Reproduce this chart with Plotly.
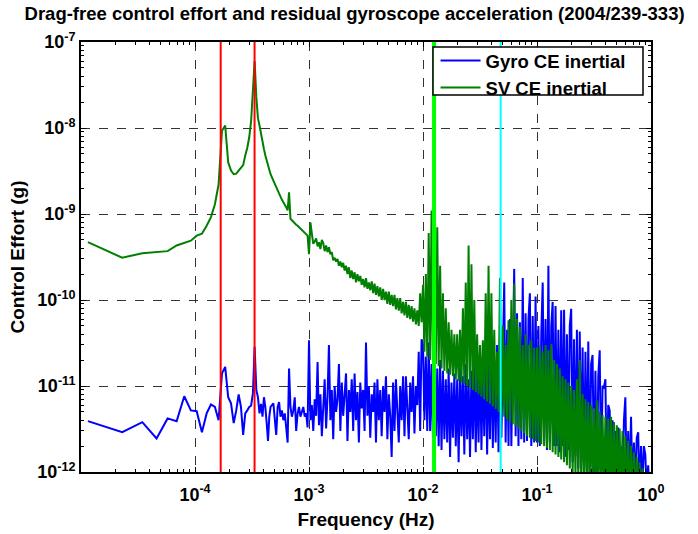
import plotly.graph_objects as go

# ---------------- data ----------------
# individual FFT bins at the low-frequency end (Hz)
FREQ_BINS = [1.15e-5, 2.30e-5, 3.45e-5, 4.60e-5, 5.75e-5, 6.90e-5, 8.05e-5, 9.20e-5,
             1.035e-4, 1.150e-4, 1.265e-4, 1.380e-4, 1.495e-4, 1.610e-4, 1.725e-4,
             1.840e-4, 1.955e-4, 2.070e-4, 2.185e-4, 2.300e-4, 2.415e-4, 2.530e-4,
             2.645e-4, 2.760e-4, 2.875e-4, 2.990e-4, 3.105e-4, 3.220e-4, 3.335e-4,
             3.450e-4, 3.565e-4, 3.680e-4, 3.795e-4, 3.910e-4, 4.025e-4, 4.140e-4,
             4.255e-4, 4.370e-4, 4.485e-4, 4.600e-4]
# frequency mantissas used for the sampled points within each decade
FREQ_MANT = [1.000, 1.029, 1.059, 1.090, 1.122, 1.155, 1.189, 1.223, 1.259, 1.296,
             1.334, 1.372, 1.413, 1.454, 1.496, 1.540, 1.585, 1.631, 1.679, 1.728,
             1.778, 1.830, 1.884, 1.939, 1.995, 2.054, 2.113, 2.175, 2.239, 2.304,
             2.371, 2.441, 2.512, 2.585, 2.661, 2.738, 2.818, 2.901, 2.985, 3.072,
             3.162, 3.255, 3.350, 3.447, 3.548, 3.652, 3.758, 3.868, 3.981, 4.097,
             4.217, 4.340, 4.467, 4.597, 4.732, 4.870, 5.012, 5.158, 5.309, 5.464,
             5.623, 5.788, 5.957, 6.131, 6.310, 6.494, 6.683, 6.879, 7.079, 7.286,
             7.499, 7.718, 7.943, 8.175, 8.414, 8.660, 8.913, 9.173, 9.441, 9.716]

# Gyro CE inertial (g)
GYRO_LOW = [3.9e-12, 2.9e-12, 3.8e-12, 2.45e-12, 4.2e-12, 3.9e-12, 7.6e-12, 5.2e-12,
            5.1e-12, 2.9e-12, 4.8e-12, 6.1e-12, 5.7e-12, 4.0e-12, 1.4e-11, 1.67e-11,
            7.4e-12, 6.3e-12, 3.7e-12, 5.2e-12, 8.0e-12, 5.7e-12, 2.7e-12, 4.8e-12,
            5.2e-12, 5.7e-12, 5.9e-12, 8.2e-12, 2.85e-11, 9.0e-12, 7.4e-12, 4.8e-12,
            6.2e-12, 4.4e-12, 7.4e-12, 5.7e-12, 3.7e-12, 2.3e-12, 4.4e-12, 5.7e-12]
GYRO_E4 = [6.3e-12, 3.7e-12, 2.7e-12, 5.7e-12, 6.5e-12, 4.4e-12, 5.2e-12, 4.0e-12,
           4.8e-12, 3.3e-12, 2.2e-12, 1.6e-11, 5.7e-12, 4.4e-12, 5.2e-12, 7.4e-12,
           3.0e-12, 4.8e-12, 5.7e-12, 4.4e-12, 5.0e-12, 5.7e-12, 4.4e-12, 4.8e-12, 3.3e-12]
GYRO_E3 = [3.4e-11, 4.0e-12, 6.0e-12, 3.0e-12, 7.0e-12, 4.5e-12, 1.9e-11, 3.5e-12,
           8.0e-12, 2.6e-12, 6.5e-12, 1.2e-11, 3.2e-12, 7.5e-12, 3.0e-11, 4.0e-12,
           9.0e-12, 2.4e-12, 1.0e-11, 5.0e-12, 7.0e-12, 1.8e-11, 3.0e-12, 1.1e-11,
           4.5e-12, 8.0e-12, 1.4e-11, 2.3e-12, 9.0e-12, 5.0e-12, 1.2e-11, 3.0e-12,
           1.4e-11, 4.0e-12, 8.5e-12, 2.2e-12, 1.1e-11, 5.5e-12, 9.0e-12, 3.0e-12,
           3.2e-11, 4.5e-12, 1.0e-11, 2.5e-12, 8.0e-12, 5.0e-12, 1.1e-11, 2.2e-12,
           1.2e-11, 4.0e-12, 9.0e-12, 2.6e-12, 1.0e-11, 5.0e-12, 1.3e-11, 2.4e-12,
           8.0e-12, 4.5e-12, 1.5e-12, 1.1e-11, 3.0e-12, 1.2e-11, 5.0e-12, 2.2e-12,
           1.0e-11, 4.0e-12, 1.3e-11, 2.6e-12, 1.3e-11, 6.0e-12, 2.4e-12, 1.1e-11,
           5.0e-12, 1.3e-11, 2.8e-12, 1.0e-11, 6.0e-12, 2.5e-11, 3.0e-12, 3.5e-11]
GYRO_E2 = [3.0e-11, 4.0e-12, 2.2e-11, 3.0e-12, 3.2e-11, 3.0e-12, 1.8e-11, 2.5e-12,
           2.5e-11, 2.6e-12, 1.6e-11, 2.0e-12, 2.0e-11, 1.8e-12, 1.5e-11, 2.4e-12,
           1.2e-11, 2.2e-12, 1.6e-11, 1.5e-12, 1.1e-11, 2.5e-12, 1.4e-11, 2.0e-12,
           1.2e-11, 1.3e-12, 1.6e-11, 2.6e-12, 1.3e-11, 1.6e-12, 1.8e-11, 2.4e-12,
           1.2e-11, 1.5e-12, 1.5e-11, 2.4e-12, 2.0e-11, 1.7e-12, 1.4e-11, 2.2e-12,
           2.2e-11, 1.8e-12, 1.6e-11, 2.6e-12, 2.4e-11, 1.6e-12, 1.8e-11, 2.4e-12,
           2.6e-11, 1.9e-12, 2.0e-11, 2.2e-12, 3.0e-11, 1.7e-12, 4.0e-11, 2.5e-12,
           3.5e-11, 1.6e-10, 2.2e-12, 4.5e-11, 2.0e-12, 6.0e-11, 2.0e-12, 5.0e-11,
           2.3e-10, 2.6e-12, 7.0e-11, 2.0e-12, 5.5e-11, 2.4e-12, 1.8e-10, 2.2e-12,
           7.0e-11, 2.3e-12, 6.0e-11, 1.2e-10, 2.0e-12, 6.5e-11, 2.2e-12, 1.1e-10]
GYRO_E1 = [2.2e-12, 5.0e-11, 2.0e-12, 4.0e-11, 1.6e-10, 2.4e-12, 6.0e-11, 1.8e-12,
           2.5e-10, 2.2e-12, 5.0e-11, 9.5e-11, 2.0e-12, 8.5e-11, 2.0e-12, 4.5e-11,
           1.7e-12, 7.6e-11, 2.0e-12, 7.7e-11, 1.5e-12, 4.0e-11, 1.8e-12, 5.0e-11,
           7.9e-11, 1.3e-12, 3.5e-11, 1.5e-12, 4.5e-11, 1.1e-12, 4.3e-11, 1.3e-12,
           2.8e-11, 9.0e-13, 2.5e-11, 1.1e-12, 3.3e-11, 8.0e-13, 1.8e-11, 2.3e-11,
           9.0e-13, 1.5e-11, 7.0e-13, 1.3e-11, 2.6e-11, 8.0e-13, 1.0e-11, 9.7e-12,
           1.2e-11, 7.0e-13, 6.0e-12, 5.2e-12, 8.0e-13, 4.0e-12, 6.0e-13, 3.0e-12,
           7.0e-13, 3.3e-12, 6.0e-13, 2.0e-12, 8.0e-13, 4.0e-12, 7.4e-12, 6.0e-13,
           3.0e-12, 7.0e-13, 4.4e-12, 6.0e-13, 2.2e-12, 7.0e-13, 2.5e-12, 2.9e-12,
           6.0e-13, 2.0e-12, 7.0e-13, 2.0e-12, 1.6e-12, 6.0e-13, 1.2e-12, 6.0e-13]

# SV CE inertial (g)
SV_LOW = [4.7e-10, 3.1e-10, 3.5e-10, 3.6e-10, 3.7e-10, 4.3e-10, 4.6e-10, 4.9e-10,
          5.6e-10, 5.9e-10, 7.3e-10, 9.2e-10, 1.3e-9, 2.2e-9, 9.3e-9, 1.07e-8,
          4.0e-9, 3.2e-9, 2.9e-9, 2.95e-9, 3.2e-9, 3.4e-9, 3.7e-9, 4.8e-9,
          5.9e-9, 7.8e-9, 1.2e-8, 2.7e-8, 6.0e-8, 2.3e-8, 1.3e-8, 1.07e-8,
          8.5e-9, 6.5e-9, 5.7e-9, 4.8e-9, 4.2e-9, 3.6e-9, 3.2e-9, 2.9e-9]
SV_E4 = [2.44e-9, 2.23e-9, 2.04e-9, 1.87e-9, 1.71e-9, 1.56e-9, 1.46e-9, 1.37e-9,
         1.29e-9, 1.2e-9, 1.1e-9, 1.79e-9, 8.8e-10, 8.4e-10, 8.1e-10, 7.8e-10,
         7.5e-10, 7.3e-10, 7.0e-10, 6.8e-10, 6.5e-10, 6.2e-10, 6.0e-10, 5.8e-10, 5.6e-10]
SV_E3 = [3.4e-10, 8.0e-10, 5.9e-10, 4.5e-10, 4.8e-10, 5.2e-10, 4.2e-10, 4.7e-10,
         3.9e-10, 5.0e-10, 4.6e-10, 3.7e-10, 4.3e-10, 3.6e-10, 4.1e-10, 3.4e-10,
         3.6e-10, 2.9e-10, 3.1e-10, 2.8e-10, 3.0e-10, 2.5e-10, 2.8e-10, 2.4e-10,
         2.7e-10, 2.2e-10, 2.5e-10, 2.0e-10, 2.4e-10, 1.8e-10, 2.2e-10, 1.75e-10,
         2.1e-10, 1.6e-10, 2.0e-10, 1.65e-10, 1.9e-10, 1.5e-10, 1.75e-10, 1.4e-10,
         1.8e-10, 1.35e-10, 1.6e-10, 1.3e-10, 1.65e-10, 1.2e-10, 1.55e-10, 1.15e-10,
         1.45e-10, 1.1e-10, 1.4e-10, 1.0e-10, 1.35e-10, 1.0e-10, 1.25e-10, 9.0e-11,
         1.25e-10, 8.8e-11, 1.15e-10, 8.5e-11, 1.15e-10, 7.8e-11, 1.05e-10, 7.5e-11,
         1.05e-10, 7.0e-11, 9.5e-11, 6.6e-11, 9.5e-11, 6.2e-11, 8.8e-11, 6.0e-11,
         8.5e-11, 5.6e-11, 8.0e-11, 5.2e-11, 7.6e-11, 5.0e-11, 1.2e-10, 5.5e-11]
SV_E2 = [1.5e-10, 2.5e-11, 2.0e-10, 2.2e-11, 6.0e-10, 2.0e-11, 1.1e-9, 1.9e-11,
         1.3e-9, 1.8e-11, 7.0e-10, 1.7e-11, 2.5e-10, 1.6e-11, 1.2e-10, 1.5e-11,
         8.0e-11, 1.4e-11, 5.5e-11, 1.35e-11, 4.5e-11, 1.3e-11, 4.0e-11, 1.2e-11,
         4.0e-11, 1.15e-11, 4.5e-11, 1.1e-11, 8.0e-11, 1.05e-11, 1.6e-10, 1.0e-11,
         4.3e-10, 9.5e-12, 2.6e-10, 9.0e-12, 1.0e-10, 8.5e-12, 4.0e-11, 8.0e-12,
         3.0e-11, 7.5e-12, 3.4e-11, 7.0e-12, 1.2e-10, 6.6e-12, 2.5e-10, 6.2e-12,
         1.2e-10, 5.8e-12, 4.5e-11, 5.4e-12, 2.5e-11, 5.0e-12, 1.8e-10, 4.7e-12,
         5.0e-11, 4.4e-12, 3.0e-11, 4.1e-12, 5.8e-11, 3.8e-12, 1.0e-10, 3.6e-12,
         1.55e-10, 3.4e-12, 6.0e-11, 3.2e-12, 4.9e-11, 3.0e-12, 3.0e-11, 2.8e-12,
         4.0e-11, 2.6e-12, 3.0e-11, 2.5e-12, 3.4e-11, 2.4e-12, 2.8e-11, 2.3e-12]
SV_E1 = [2.8e-11, 2.2e-12, 3.0e-11, 2.1e-12, 2.5e-11, 2.0e-12, 3.0e-11, 1.9e-12,
         2.6e-11, 1.8e-12, 3.1e-11, 1.7e-12, 2.0e-11, 1.6e-12, 1.8e-11, 1.5e-12,
         1.6e-11, 1.4e-12, 1.3e-11, 1.3e-12, 1.2e-11, 1.2e-12, 1.1e-11, 1.1e-12,
         1.0e-11, 1.0e-12, 9.0e-12, 9.0e-13, 1.2e-11, 8.5e-13, 2.0e-11, 8.0e-13,
         8.0e-12, 7.5e-13, 7.0e-12, 7.0e-13, 6.5e-12, 7.0e-13, 6.0e-12, 6.5e-13,
         5.5e-12, 6.5e-13, 6.8e-12, 6.0e-13, 5.0e-12, 6.0e-13, 4.6e-12, 6.0e-13,
         4.4e-12, 5.5e-13, 4.2e-12, 5.5e-13, 4.4e-12, 5.0e-13, 3.8e-12, 5.0e-13,
         3.5e-12, 5.0e-13, 3.2e-12, 4.5e-13, 3.0e-12, 4.5e-13, 2.6e-12, 4.5e-13,
         2.3e-12, 4.0e-13, 2.0e-12, 4.0e-13, 1.7e-12, 4.0e-13, 1.5e-12, 4.0e-13,
         1.3e-12, 3.5e-13, 1.1e-12, 3.5e-13, 9.0e-13, 3.5e-13, 8.0e-13, 3.0e-13]

# marker frequencies (Hz) drawn as vertical lines
MARK_FREQ = [1.68e-4, 3.33e-4, 0.0125, 0.048]
MARK_COLOR = ["#ff0000", "#ff0000", "#00ff00", "#00ffff"]
MARK_WIDTH = [2, 2, 4, 2]

X_TICKS = [1e-5, 1e-4, 1e-3, 1e-2, 1e-1, 1]
X_TEXT = ["", "10<sup>-4</sup>", "10<sup>-3</sup>", "10<sup>-2</sup>",
          "10<sup>-1</sup>", "10<sup>0</sup>"]
Y_TICKS = [1e-12, 1e-11, 1e-10, 1e-9, 1e-8, 1e-7]
Y_TEXT = ["10<sup>-12</sup>", "10<sup>-11</sup>", "10<sup>-10</sup>",
          "10<sup>-9</sup>", "10<sup>-8</sup>", "10<sup>-7</sup>"]

# ---------------- build ----------------
freq = (FREQ_BINS + [m * 1e-4 for m in FREQ_MANT[55:]] + [m * 1e-3 for m in FREQ_MANT]
        + [m * 1e-2 for m in FREQ_MANT] + [m * 1e-1 for m in FREQ_MANT])
gyro = GYRO_LOW + GYRO_E4 + GYRO_E3 + GYRO_E2 + GYRO_E1
sv = SV_LOW + SV_E4 + SV_E3 + SV_E2 + SV_E1

FONT = "Liberation Sans, Arial, Helvetica, sans-serif"

fig = go.Figure()
fig.add_trace(go.Scatter(x=freq, y=gyro, mode="lines", name="Gyro CE inertial",
                         line=dict(color="#0000ff", width=2)))
fig.add_trace(go.Scatter(x=freq, y=sv, mode="lines", name="SV CE inertial",
                         line=dict(color="#007f00", width=2)))

for f, c, w in zip(MARK_FREQ, MARK_COLOR, MARK_WIDTH):
    fig.add_shape(type="line", xref="x", yref="paper", x0=f, x1=f, y0=0, y1=1,
                  line=dict(color=c, width=w), layer="above")

# legend frame (white box with black border) behind the legend entries
fig.add_shape(type="rect", xref="paper", yref="paper",
              x0=(433 - 81) / 570, x1=(643 - 81) / 570,
              y0=(472 - 95) / 430, y1=(472 - 47) / 430,
              fillcolor="white", line=dict(color="black", width=1.5), layer="above")

minor_x = [m * 10.0 ** e for e in range(-5, 0) for m in range(2, 10)]
minor_y = [m * 10.0 ** e for e in range(-12, -7) for m in range(2, 10)]

axis_common = dict(
    type="log", showline=True, linecolor="black", linewidth=2, mirror="allticks",
    ticks="inside", ticklen=5, tickwidth=1.2, tickcolor="black",
    showgrid=True, gridcolor="#333333", gridwidth=1, griddash="dash",
    tickfont=dict(family=FONT, size=18, color="black", weight="bold"),
    zeroline=False, automargin=False,
)

fig.update_layout(
    width=698, height=534,
    margin=dict(l=81, r=47, t=42, b=62),
    paper_bgcolor="white", plot_bgcolor="white",
    title=dict(text="Drag-free control effort and residual gyroscope acceleration (2004/239-333)",
               font=dict(family=FONT, size=18.5, color="black", weight="bold"),
               x=0.508, xref="container", xanchor="center",
               y=1 - 14 / 534, yref="container", yanchor="middle"),
    xaxis=dict(axis_common, range=[-5, 0], tickvals=X_TICKS, ticktext=X_TEXT,
               ticklabelstandoff=5,
               minor=dict(tickvals=minor_x, ticks="inside", ticklen=3, tickcolor="black",
                          showgrid=False),
               title=dict(text="Frequency (Hz)", standoff=9,
                          font=dict(family=FONT, size=19, color="black", weight="bold"))),
    yaxis=dict(axis_common, range=[-12, -7], tickvals=Y_TICKS, ticktext=Y_TEXT,
               minor=dict(tickvals=minor_y, ticks="inside", ticklen=3, tickcolor="black",
                          showgrid=False),
               title=dict(text="Control Effort (g)", standoff=8,
                          font=dict(family=FONT, size=19, color="black", weight="bold"))),
    legend=dict(x=0.622, y=1.0, xanchor="left", yanchor="top",
                bgcolor="rgba(0,0,0,0)", borderwidth=0,
                font=dict(family=FONT, size=18.5, color="black", weight="bold"),
                itemwidth=40, tracegroupgap=0),
    showlegend=True,
)

fig.write_html("out.html")
